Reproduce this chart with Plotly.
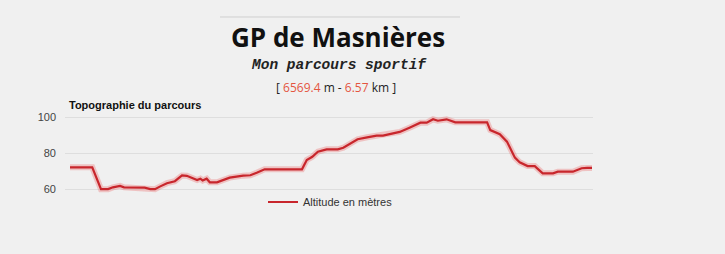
import plotly.graph_objects as go

# Data: distance (km) and altitude (m)
distance_km = [0.00, 0.28, 0.39, 0.48, 0.54, 0.63, 0.68, 0.94, 1.01, 1.07, 1.13, 1.22, 1.32,
               1.41, 1.47, 1.60, 1.64, 1.67, 1.72, 1.76, 1.85, 1.93, 2.01, 2.18, 2.27, 2.35,
               2.45, 2.92, 2.98, 3.05, 3.12, 3.23, 3.37, 3.44, 3.52, 3.62, 3.74, 3.86, 3.94,
               4.07, 4.15, 4.28, 4.41, 4.49, 4.57, 4.63, 4.74, 4.85, 5.25, 5.29, 5.41, 5.50,
               5.60, 5.66, 5.76, 5.85, 5.95, 6.08, 6.14, 6.33, 6.44, 6.51, 6.57]
altitude_m = [72.3, 72.3, 60.2, 60.2, 61.2, 62.0, 61.2, 61.0, 60.2, 60.2, 61.6, 63.5, 64.6,
              67.8, 67.6, 65.3, 66.0, 65.0, 66.0, 64.0, 64.0, 65.3, 66.6, 67.7, 67.9, 69.3,
              71.2, 71.2, 76.4, 78.2, 81.0, 82.3, 82.3, 83.2, 85.1, 87.9, 89.0, 89.9, 89.9,
              91.2, 92.0, 94.5, 97.1, 97.1, 99.0, 98.2, 99.0, 97.3, 97.3, 93.0, 90.7, 86.6,
              77.7, 75.1, 73.0, 73.0, 69.0, 69.0, 69.9, 69.9, 71.8, 72.0, 72.0]
y_ticks = [60, 80, 100]

title_text = "GP de Masnières"
subtitle_text = "Mon parcours sportif"
chart_title = "Topographie du parcours"
series_name = "Altitude en mètres"
dist_m = "6569.4"
dist_km = "6.57"

W, H = 725, 254
ML, MR, MT, MB = 65, 132, 110, 59
PW, PH = W - ML - MR, H - MT - MB


def px(x):
    return (x - ML) / PW


def py(y):
    return (H - MB - y) / PH


BG = "#f0f0f0"
RED = "#c8262c"
NUM = "#e4553f"

fig = go.Figure()
fig.add_trace(go.Scatter(x=distance_km, y=altitude_m, mode="lines",
                         line=dict(color="rgba(235,110,110,0.35)", width=6),
                         showlegend=False, hoverinfo="skip"))
fig.add_trace(go.Scatter(x=distance_km, y=altitude_m, mode="lines", name=series_name,
                         line=dict(color=RED, width=2.2)))

fig.update_layout(
    width=W, height=H,
    margin=dict(l=ML, r=MR, t=MT, b=MB, pad=0),
    paper_bgcolor=BG, plot_bgcolor=BG,
    font=dict(family="Liberation Sans, Arial, sans-serif", size=11, color="#444"),
    xaxis=dict(range=[-0.063, 6.583], showgrid=False, zeroline=False,
               showticklabels=False, showline=False, fixedrange=True),
    yaxis=dict(range=[56.94, 104.17], tickvals=y_ticks, showgrid=True,
               gridcolor="#dedede", gridwidth=1, zeroline=False, showline=False,
               tickfont=dict(size=11, color="#444"), ticks="", ticklabelstandoff=8),
    showlegend=True,
    legend=dict(orientation="h", x=px(263), y=py(202), xanchor="left", yanchor="middle",
                bgcolor="rgba(0,0,0,0)", font=dict(size=11, color="#333")),
)

fig.add_shape(type="line", xref="paper", yref="paper", x0=px(220), x1=px(460),
              y0=py(17), y1=py(17), line=dict(color="#cfcfcf", width=1))

fig.add_annotation(xref="paper", yref="paper", x=px(338), y=py(37), xanchor="center",
                   yanchor="middle", showarrow=False, text=f"<b>{title_text}</b>",
                   font=dict(family="Open Sans, sans-serif", size=26, color="#111"))
fig.add_annotation(xref="paper", yref="paper", x=px(339), y=py(65), xanchor="center",
                   yanchor="middle", showarrow=False, text=f"<b><i>{subtitle_text}</i></b>",
                   font=dict(family="Liberation Mono, monospace", size=14.5, color="#222"))
fig.add_annotation(xref="paper", yref="paper", x=px(336), y=py(87), xanchor="center",
                   yanchor="middle", showarrow=False,
                   text=(f"[ <span style='color:{NUM}'>{dist_m}</span> m - "
                         f"<span style='color:{NUM}'>{dist_km}</span> km ]"),
                   font=dict(family="Open Sans, sans-serif", size=12, color="#222"))
fig.add_annotation(xref="paper", yref="paper", x=px(67), y=py(105), xanchor="left",
                   yanchor="middle", showarrow=False, text=f"<b>{chart_title}</b>",
                   font=dict(family="Liberation Sans, Arial, sans-serif", size=11, color="#111"))

fig.write_html("out.html")
